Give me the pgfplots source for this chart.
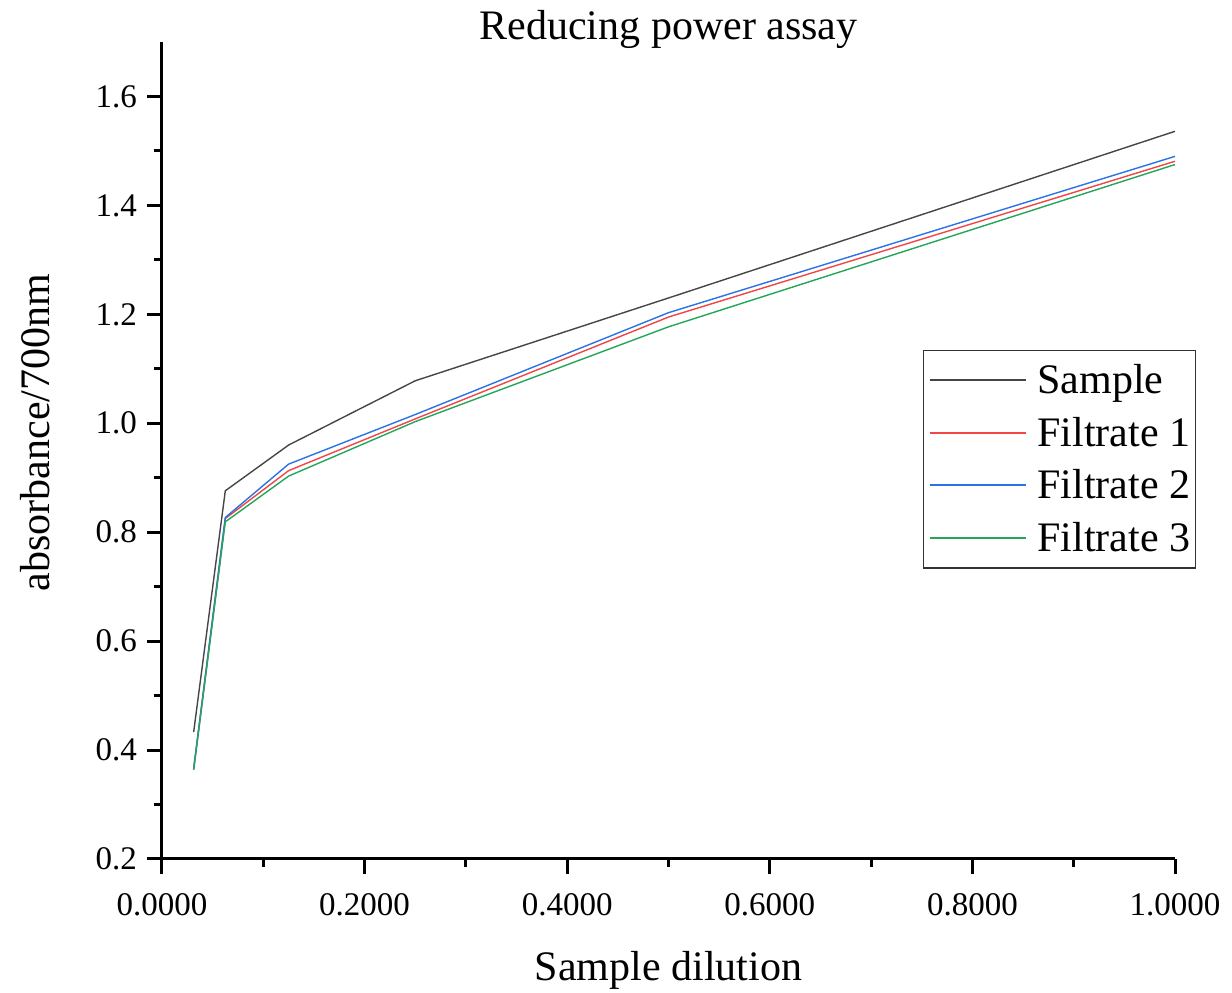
\documentclass[border=0pt]{standalone}
\usepackage{fontspec}
\setmainfont{Liberation Serif}
\usepackage{pgfplots}
\pgfplotsset{compat=1.18}
\usetikzlibrary{calc}
\definecolor{cblack}{RGB}{70,70,70}
\definecolor{cred}{RGB}{240,70,70}
\definecolor{cblue}{RGB}{40,115,230}
\definecolor{cgreen}{RGB}{35,165,90}
\begin{document}
\begin{tikzpicture}
\begin{axis}[
  name=ax,
  scale only axis,
  width=506.5pt, height=408.5pt,
  xmin=0, xmax=1.0, ymin=0.2, ymax=1.7,
  axis x line=bottom, axis y line=left,
  axis line style={-, line width=1.5pt},
  xtick={0,0.2,0.4,0.6,0.8,1.0},
  minor xtick={0.1,0.3,0.5,0.7,0.9},
  ytick={0.2,0.4,0.6,0.8,1.0,1.2,1.4,1.6},
  minor ytick={0.3,0.5,0.7,0.9,1.1,1.3,1.5},
  tick align=outside,
  major tick length=7.5pt, minor tick length=4pt,
  tick style={line width=1.5pt, black},
  xticklabel style={yshift=-6pt, /pgf/number format/fixed, /pgf/number format/fixed zerofill, /pgf/number format/precision=4},
  yticklabel style={xshift=-1.5pt, /pgf/number format/fixed, /pgf/number format/fixed zerofill, /pgf/number format/precision=1},
  /pgf/number format/assume math mode=true,
  ticklabel style={font=\fontsize{16.5}{16.5}\selectfont},
  xlabel={Sample dilution}, ylabel={absorbance/700nm},
  xlabel style={at={(rel axis cs:0.5,0)}, anchor=base, yshift=-61pt, font=\fontsize{21}{21}\selectfont},
  ylabel style={at={(rel axis cs:-0.1254,0.522)}, anchor=center, font=\fontsize{21}{21}\selectfont},
  title={Reducing power assay},
  title style={at={(rel axis cs:0.5,1)}, anchor=base, yshift=-5pt, font=\fontsize{21}{21}\selectfont},
  legend style={at={(rel axis cs:1.0207,0.623)}, anchor=north east, draw=black!80, line width=0.7pt,
    font=\fontsize{21}{21}\selectfont, inner xsep=2.5pt, inner ysep=4.5pt, row sep=5.25pt, column sep=5.5pt,
    nodes={inner sep=0pt, text height=17pt, text depth=4pt}},
  legend cell align=left,
  legend image code/.code={\draw[#1, line width=0.85pt] (0pt,0.2pt) -- (48pt,0.2pt);},
]
\addplot[cblack, line width=0.7pt] coordinates {(0.03125,0.433) (0.0625,0.876) (0.125,0.960) (0.25,1.078) (0.5,1.230) (1.0,1.536)};
\addlegendentry{Sample}
\addplot[cred, line width=0.7pt] coordinates {(0.03125,0.364) (0.0625,0.825) (0.125,0.913) (0.25,1.008) (0.5,1.195) (1.0,1.481)};
\addlegendentry{Filtrate 1}
\addplot[cblue, line width=0.7pt] coordinates {(0.03125,0.366) (0.0625,0.827) (0.125,0.925) (0.25,1.016) (0.5,1.203) (1.0,1.490)};
\addlegendentry{Filtrate 2}
\addplot[cgreen, line width=0.7pt] coordinates {(0.03125,0.364) (0.0625,0.819) (0.125,0.903) (0.25,1.003) (0.5,1.177) (1.0,1.475)};
\addlegendentry{Filtrate 3}
\end{axis}
\pgfresetboundingbox
\path ($(ax.south west)+(-81pt,-67pt)$) rectangle ($(ax.north east)+(28.5pt,21pt)$);
\end{tikzpicture}
\end{document}
